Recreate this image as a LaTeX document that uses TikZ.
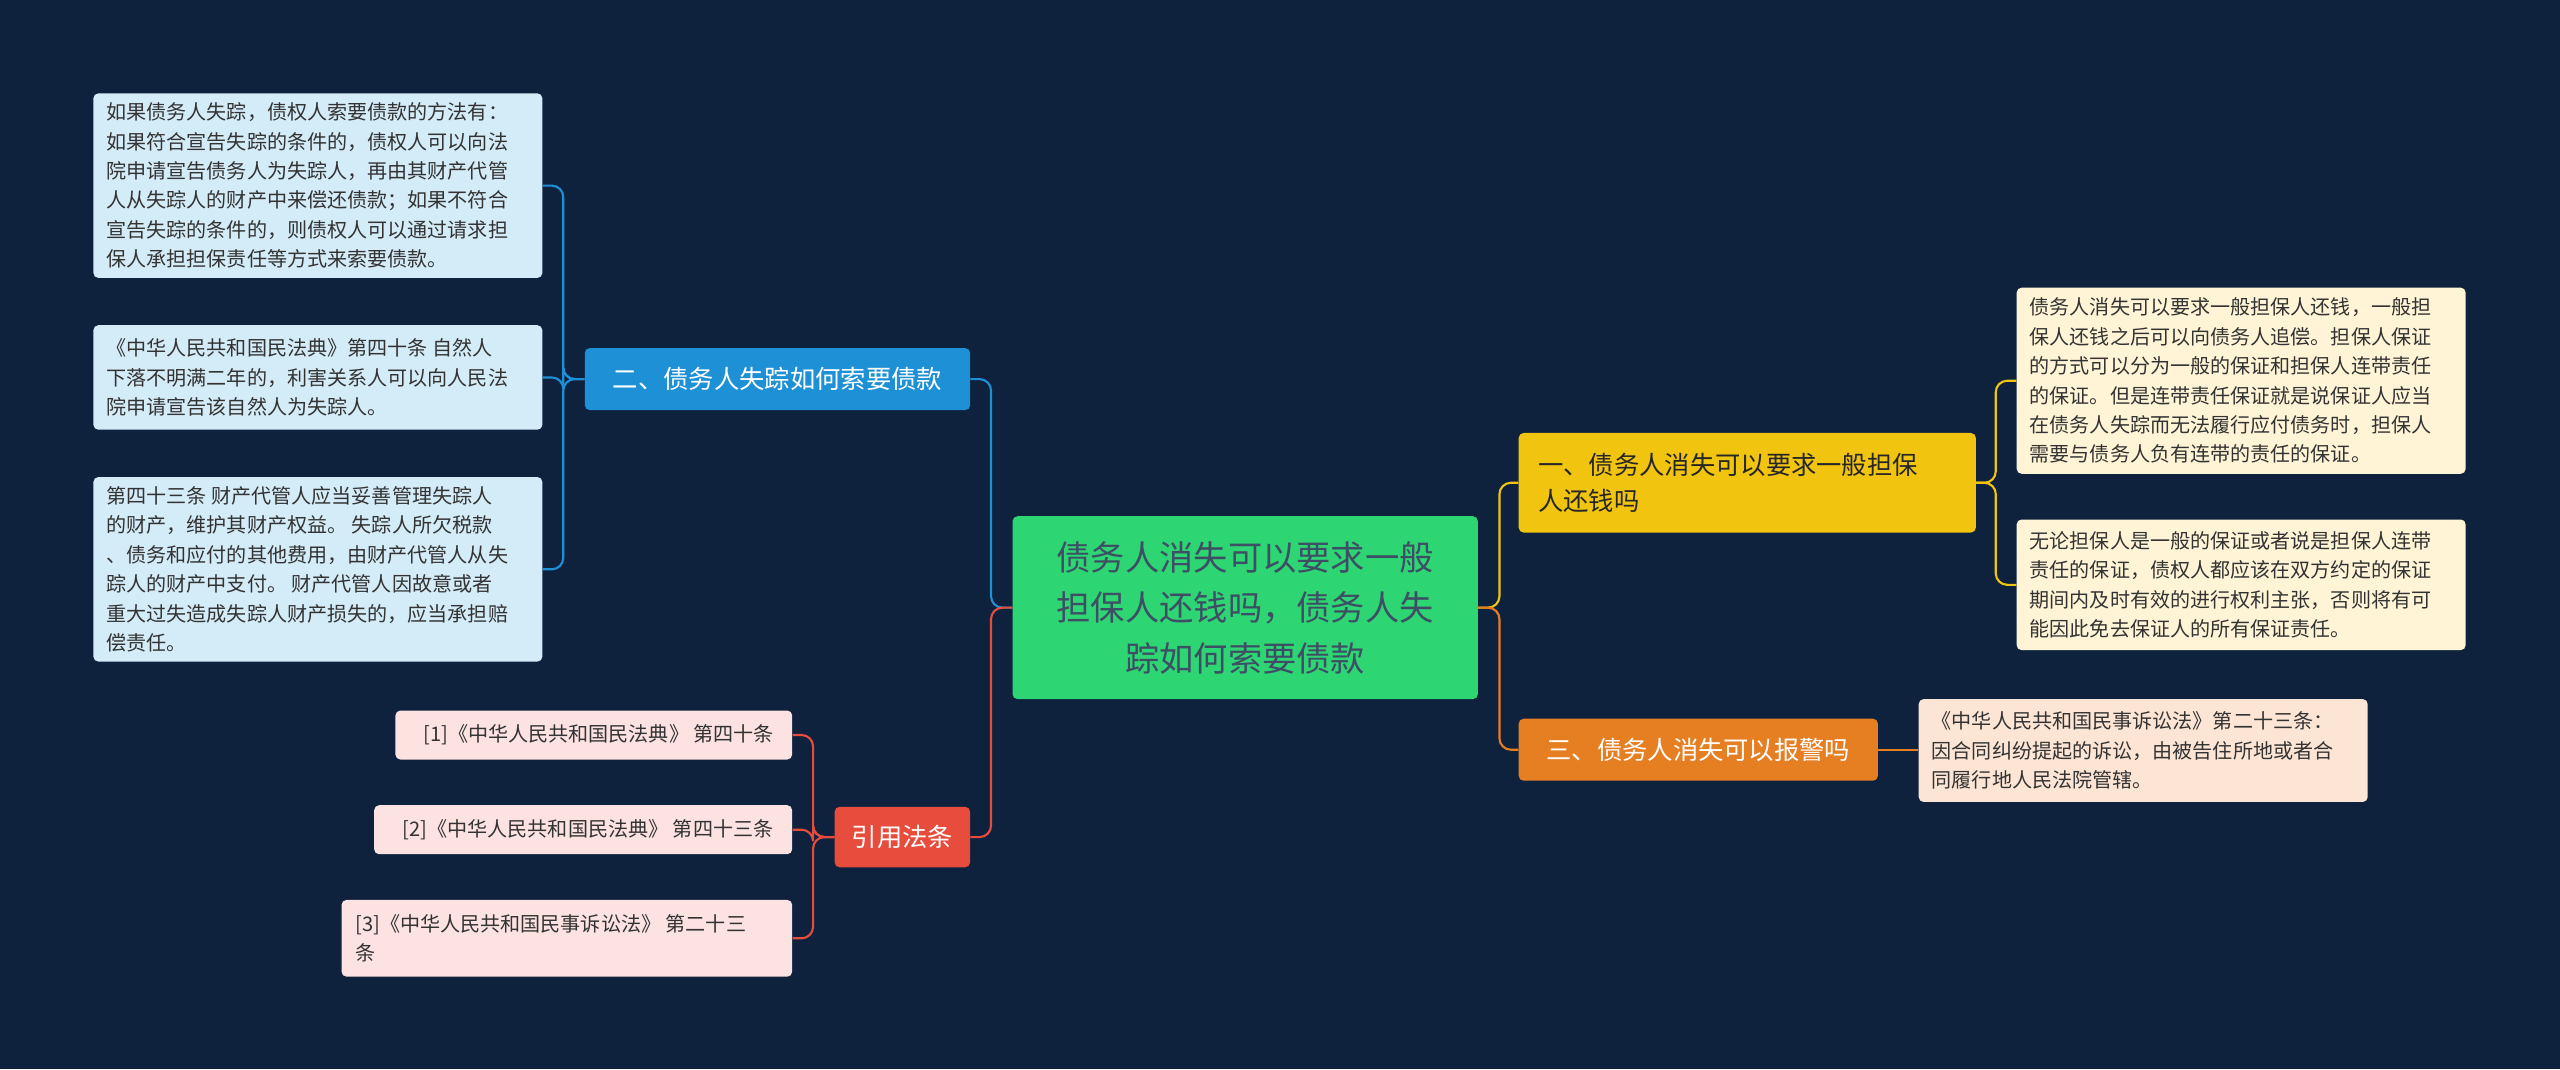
\documentclass[tikz,border=0pt]{standalone}
\usepackage{fontspec}
\setmainfont{Noto Sans CJK SC}
\begin{document}
\begin{tikzpicture}[x=1pt,y=-1pt,
  box/.style={rounded corners=3pt,inner sep=0pt,align=left,anchor=north west},
  leaf/.style={box,font=\fontsize{12.3}{18}\selectfont,text=black!80},
  ln/.style={line width=1.3pt,rounded corners=7pt}]
\definecolor{bg}{HTML}{0E223D}
\definecolor{cgreen}{HTML}{2ED573}
\definecolor{cyel}{HTML}{F1C40F}
\definecolor{cora}{HTML}{E67E22}
\definecolor{cblue}{HTML}{1E90D6}
\definecolor{cred}{HTML}{E74C3C}
\definecolor{lyel}{HTML}{FFF5D6}
\definecolor{lora}{HTML}{FCE5D4}
\definecolor{lblue}{HTML}{D4EBF8}
\definecolor{lred}{HTML}{FDE2E2}
\fill[bg] (0,0) rectangle (1568,655);
\useasboundingbox (0,0) rectangle (1568,655);
% center
\node[box,fill=cgreen,minimum width=285,minimum height=112,align=center,text width=275,font=\fontsize{21}{31}\selectfont,text=bg!80] (c) at (620,316) {债务人消失可以要求一般\\担保人还钱吗，债务人失\\踪如何索要债款};
% branches
\node[box,fill=cyel,minimum width=280,minimum height=61,text width=268,font=\fontsize{15.5}{22}\selectfont,text=black!85] (b1) at (930,265) {\hspace*{6pt}一、债务人消失可以要求一般担保\\\hspace*{6pt}人还钱吗};
\node[box,fill=cora,minimum width=220,minimum height=38,align=center,font=\fontsize{15.5}{22}\selectfont,text=white] (b3) at (930,440) {三、债务人消失可以报警吗};
\node[box,fill=cblue,minimum width=236,minimum height=38,align=center,font=\fontsize{15.5}{22}\selectfont,text=white] (b2) at (358,213) {二、债务人失踪如何索要债款};
\node[box,fill=cred,minimum width=83,minimum height=37,align=center,font=\fontsize{15.5}{22}\selectfont,text=white] (b4) at (511,494) {引用法条};
% right leaves
\node[leaf,fill=lyel,minimum width=275,minimum height=114] (r1) at (1235,176) {\hspace*{6pt}\parbox{265pt}{债务人消失可以要求一般担保人还钱，一般担\\保人还钱之后可以向债务人追偿。担保人保证\\的方式可以分为一般的保证和担保人连带责任\\的保证。但是连带责任保证就是说保证人应当\\在债务人失踪而无法履行应付债务时，担保人\\需要与债务人负有连带的责任的保证。}};
\node[leaf,fill=lyel,minimum width=275,minimum height=80] (r2) at (1235,318) {\hspace*{6pt}\parbox{265pt}{无论担保人是一般的保证或者说是担保人连带\\责任的保证，债权人都应该在双方约定的保证\\期间内及时有效的进行权利主张，否则将有可\\能因此免去保证人的所有保证责任。}};
\node[leaf,fill=lora,minimum width=275,minimum height=63] (r3) at (1175,428) {\hspace*{6pt}\parbox{265pt}{《中华人民共和国民事诉讼法》第二十三条：\\因合同纠纷提起的诉讼，由被告住所地或者合\\同履行地人民法院管辖。}};
% left leaves
\node[leaf,fill=lblue,minimum width=275,minimum height=113] (l1) at (57,57) {\hspace*{6pt}\parbox{265pt}{如果债务人失踪，债权人索要债款的方法有：\\如果符合宣告失踪的条件的，债权人可以向法\\院申请宣告债务人为失踪人，再由其财产代管\\人从失踪人的财产中来偿还债款；如果不符合\\宣告失踪的条件的，则债权人可以通过请求担\\保人承担担保责任等方式来索要债款。}};
\node[leaf,fill=lblue,minimum width=275,minimum height=64] (l2) at (57,199) {\hspace*{6pt}\parbox{265pt}{《中华人民共和国民法典》第四十条 自然人\\下落不明满二年的，利害关系人可以向人民法\\院申请宣告该自然人为失踪人。}};
\node[leaf,fill=lblue,minimum width=275,minimum height=113] (l3) at (57,292) {\hspace*{6pt}\parbox{265pt}{第四十三条 财产代管人应当妥善管理失踪人\\的财产，维护其财产权益。 失踪人所欠税款\\、债务和应付的其他费用，由财产代管人从失\\踪人的财产中支付。 财产代管人因故意或者\\重大过失造成失踪人财产损失的，应当承担赔\\偿责任。}};
% pink leaves
\node[leaf,fill=lred,minimum width=243,minimum height=30] (p1) at (242,435) {\hspace*{6pt}[1]《中华人民共和国民法典》 第四十条};
\node[leaf,fill=lred,minimum width=256,minimum height=30] (p2) at (229,493) {\hspace*{6pt}[2]《中华人民共和国民法典》 第四十三条};
\node[leaf,fill=lred,minimum width=276,minimum height=47] (p3) at (209,551) {\hspace*{6pt}\parbox{265pt}{[3]《中华人民共和国民事诉讼法》 第二十三\\条}};
% connectors
\draw[ln,cyel] (c.east) -- ++(13,0) |- (b1.west);
\draw[ln,cora] (c.east) -- ++(13,0) |- (b3.west);
\draw[ln,cblue] (c.west) -- ++(-13,0) |- (b2.east);
\draw[ln,cred] (c.west) -- ++(-13,0) |- (b4.east);
\draw[ln,cyel] (b1.east) -- ++(12,0) |- (r1.west);
\draw[ln,cyel] (b1.east) -- ++(12,0) |- (r2.west);
\draw[ln,cora] (b3.east) -- (r3.west|-b3.east);
\draw[ln,cblue] (b2.west) -- ++(-13,0) |- (l1.east);
\draw[ln,cblue] (b2.west) -- ++(-13,0) |- (l2.east);
\draw[ln,cblue] (b2.west) -- ++(-13,0) |- (l3.east);
\draw[ln,cred] (b4.west) -- ++(-13,0) |- (p1.east);
\draw[ln,cred] (b4.west) -- ++(-13,0) |- (p2.east);
\draw[ln,cred] (b4.west) -- ++(-13,0) |- (p3.east);
\end{tikzpicture}
\end{document}
